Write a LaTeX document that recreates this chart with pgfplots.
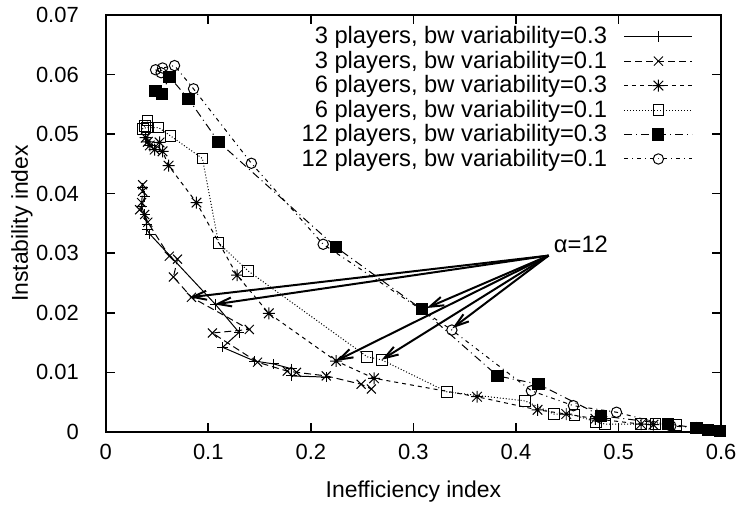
\documentclass[border=0pt]{standalone}
\usepackage{fontspec}
\setmainfont{Liberation Sans}
\usepackage{pgfplots}
\pgfplotsset{compat=1.18}
\usetikzlibrary{arrows.meta}
\pgfdeclareplotmark{gstar}{%
  \pgfpathmoveto{\pgfqpoint{-\pgfplotmarksize}{0pt}}\pgfpathlineto{\pgfqpoint{\pgfplotmarksize}{0pt}}%
  \pgfpathmoveto{\pgfqpoint{0pt}{-\pgfplotmarksize}}\pgfpathlineto{\pgfqpoint{0pt}{\pgfplotmarksize}}%
  \pgfpathmoveto{\pgfqpoint{-0.8\pgfplotmarksize}{-0.8\pgfplotmarksize}}\pgfpathlineto{\pgfqpoint{0.8\pgfplotmarksize}{0.8\pgfplotmarksize}}%
  \pgfpathmoveto{\pgfqpoint{-0.8\pgfplotmarksize}{0.8\pgfplotmarksize}}\pgfpathlineto{\pgfqpoint{0.8\pgfplotmarksize}{-0.8\pgfplotmarksize}}%
  \pgfusepathqstroke}
\begin{document}
\begin{tikzpicture}[font=\fontsize{11bp}{13bp}\selectfont]
\begin{axis}[
  scale only axis, width=308.5bp, height=209bp,
  xmin=0, xmax=0.6, ymin=0, ymax=0.07,
  xtick={0,0.1,0.2,0.3,0.4,0.5,0.6},
  ytick={0,0.01,0.02,0.03,0.04,0.05,0.06,0.07},
  scaled ticks=false,
  tick align=inside, major tick length=4.5bp,
  xtick pos=both, ytick pos=both,
  axis line style={line width=1bp},
  every tick/.style={black, line width=0.8bp},
  /pgf/number format/fixed, /pgf/number format/precision=2,
  /pgf/number format/assume math mode=true,
  xticklabel style={yshift=-2.8bp},
  yticklabel style={xshift=-10bp},
  xlabel={Inefficiency index}, ylabel={Instability index},
  label style={font=\fontsize{11.5bp}{13.5bp}\selectfont},
  xlabel style={at={(axis description cs:0.5,-0.1435)}, anchor=center},
  ylabel style={at={(axis description cs:-0.136,0.5)}, anchor=center},
  legend style={draw=none, fill=none, at={(rel axis cs:1,1)}, anchor=north east,
    xshift=-14bp, yshift=-5.6bp, inner sep=0pt, row sep=2.15bp, column sep=8.5bp,
    nodes={inner sep=0pt}, font=\fontsize{11.9bp}{14bp}\selectfont},
  legend cell align=right, legend plot pos=right,
  legend image code/.code={\draw[mark repeat=2,mark phase=2,#1] plot coordinates {(0bp,0bp)(17bp,0bp)(34bp,0bp)};},
  clip=false,
  every axis plot/.append style={black, line width=0.5bp, mark options={solid, line width=0.5bp}},
]
% 3 players, bw 0.3
\addplot[solid, mark=+, mark size=2.6bp] coordinates {
(0.036,0.0410)(0.038,0.0395)(0.035,0.0378)(0.038,0.0365)(0.040,0.0348)(0.040,0.0340)(0.043,0.0332)
(0.107,0.0214)(0.130,0.0167)(0.114,0.0142)(0.145,0.0119)(0.164,0.0114)(0.181,0.0106)(0.181,0.0094)(0.215,0.0092)};
\addlegendentry{3 players, bw variability=0.3}
% 3 players, bw 0.1
\addplot[dash pattern=on 3.5bp off 2bp, mark=x, mark size=3.2bp] coordinates {
(0.036,0.0415)(0.036,0.0404)(0.035,0.0385)(0.033,0.0373)(0.038,0.0365)(0.041,0.0352)
(0.062,0.0295)(0.070,0.0290)(0.066,0.0260)(0.0836,0.0226)(0.140,0.0172)(0.104,0.0166)
(0.148,0.0117)(0.177,0.0102)(0.186,0.0100)(0.215,0.0094)(0.249,0.0080)(0.259,0.0072)};
\addlegendentry{3 players, bw variability=0.1}
% 6 players, bw 0.3
\addplot[dash pattern=on 2bp off 2bp, mark=gstar, mark size=3bp] coordinates {
(0.039,0.0494)(0.041,0.0487)(0.043,0.0481)(0.0525,0.0486)(0.0477,0.0474)(0.0554,0.0471)
(0.0613,0.0447)(0.0885,0.0385)(0.128,0.0263)(0.159,0.0199)(0.2246,0.0119)(0.2616,0.0090)
(0.362,0.0059)(0.421,0.0037)(0.449,0.0030)(0.4775,0.0022)(0.522,0.0013)(0.534,0.0012)};
\addlegendentry{6 players, bw variability=0.3}
% 6 players, bw 0.1
\addplot[dash pattern=on 0.5bp off 1bp, mark=square, mark size=2.7bp] coordinates {
(0.0408,0.0523)(0.038,0.0514)(0.036,0.0509)(0.040,0.0511)(0.0515,0.0511)(0.0632,0.0497)
(0.0943,0.0459)(0.110,0.0317)(0.139,0.0270)(0.255,0.0126)(0.269,0.0121)(0.333,0.0067)
(0.409,0.0052)(0.437,0.0030)(0.457,0.0028)(0.478,0.0017)(0.487,0.0013)(0.522,0.0013)
(0.536,0.0013)(0.556,0.0012)};
\addlegendentry{6 players, bw variability=0.1}
% 12 players, bw 0.3
\addplot[dash pattern=on 4bp off 2bp on 0.5bp off 2bp, mark=square*, mark size=2.8bp] coordinates {
(0.0486,0.0573)(0.0545,0.0568)(0.0622,0.0596)(0.0807,0.0559)(0.110,0.0487)(0.2246,0.0310)
(0.308,0.0206)(0.382,0.0094)(0.422,0.0080)(0.483,0.0027)(0.548,0.0013)(0.576,0.0007)
(0.587,0.0003)(0.599,0.0002)};
\addlegendentry{12 players, bw variability=0.3}
% 12 players, bw 0.1
\addplot[dash pattern=on 2bp off 2bp on 0.5bp off 2bp, mark=o, mark size=2.6bp] coordinates {
(0.0486,0.0608)(0.054,0.0603)(0.0554,0.0611)(0.0671,0.0615)(0.0856,0.0576)(0.142,0.0451)
(0.212,0.0315)(0.3375,0.0171)(0.415,0.0069)(0.456,0.0044)(0.498,0.0033)(0.551,0.0010)
(0.576,0.0007)};
\addlegendentry{12 players, bw variability=0.1}
% annotation
\node[anchor=west, inner sep=0pt, font=\fontsize{11.9bp}{14bp}\selectfont] at (axis cs:0.4366,0.0315) {α=12};
\begin{scope}[line width=1bp, -{Straight Barb[length=7bp,width=4.5bp]}]
\draw (axis cs:0.4318,0.0296) -- (axis cs:0.0817,0.0226);
\draw (axis cs:0.4318,0.0296) -- (axis cs:0.106,0.0214);
\draw (axis cs:0.4318,0.0296) -- (axis cs:0.313,0.0208);
\draw (axis cs:0.4318,0.0296) -- (axis cs:0.338,0.0174);
\draw (axis cs:0.4318,0.0296) -- (axis cs:0.2246,0.0119);
\draw (axis cs:0.4318,0.0296) -- (axis cs:0.269,0.0121);
\end{scope}
\path (rel axis cs:-0.1718,-0.1746) rectangle (rel axis cs:1.0324,1.0359);
\end{axis}
\end{tikzpicture}
\end{document}
